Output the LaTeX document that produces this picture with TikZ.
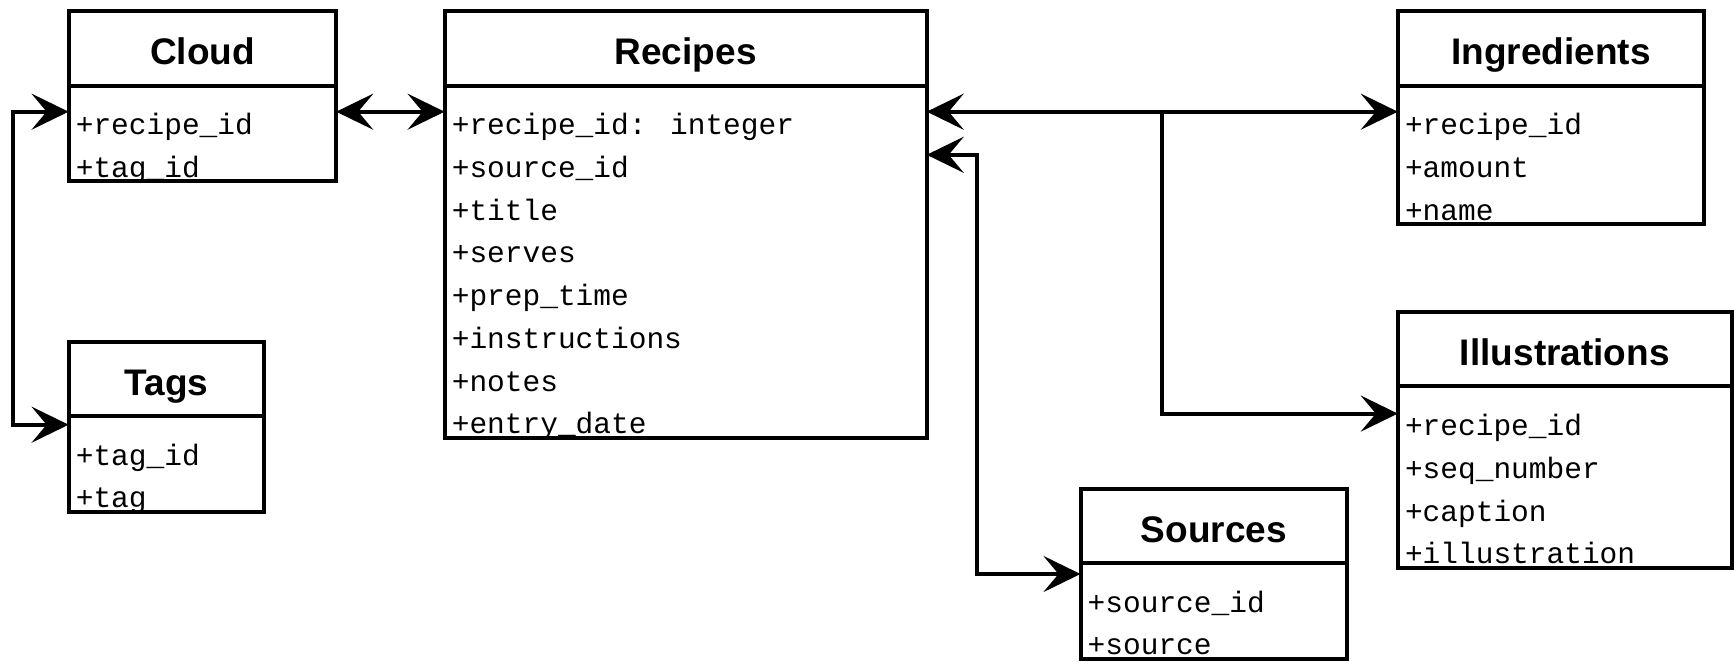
\documentclass[tikz,border=0pt]{standalone}
\usepackage{fontspec}
\setmainfont{Liberation Sans}
\newfontfamily\fieldfont{Liberation Mono}
\usetikzlibrary{arrows.meta,calc}
\tikzset{
  ent/.style={draw, rectangle, line width=4pt, inner sep=0pt, outer sep=0pt, anchor=north west},
  hdr/.style={ent, minimum height=74.5pt, font=\fontsize{37}{44}\selectfont\bfseries, text height=32.5pt, text depth=0pt},
  bdy/.style={ent},
  fld/.style={anchor=base west, inner sep=0pt, font=\fieldfont\fontsize{29.5}{35}\selectfont},
  conn/.style={line width=4pt, line join=miter},
  >={Stealth[length=37pt,width=36pt,inset=15pt]}
}
\begin{document}
\begin{tikzpicture}[x=1pt,y=-1pt]
\useasboundingbox (0,0) rectangle (1734,661);

% Cloud
\node[hdr, minimum width=267.6pt] (cloudH) at (68.6,11.1) {Cloud};
\node[bdy, minimum width=267.6pt, minimum height=95.8pt] (cloudB) at (cloudH.south west) {};
\begin{scope}
\clip (cloudB.north west) rectangle (cloudB.south east);
\node[fld] (cloud1) at ($(cloudB.north west)+(7,49.2)$) {+recipe\_id};
\node[fld] (cloud2) at ($(cloudB.north west)+(7,91.9)$) {+tag\_id};
\end{scope}

% Recipes
\node[hdr, minimum width=482.1pt] (recH) at (444.6,11.1) {Recipes};
\node[bdy, minimum width=482.1pt, minimum height=352pt] (recB) at (recH.south west) {};
\begin{scope}
\clip (recB.north west) rectangle (recB.south east);
\node[fld] (rec1) at ($(recB.north west)+(7,49.2)$) {+recipe\_id: integer};
\node[fld] (rec2) at ($(recB.north west)+(7,91.9)$) {+source\_id};
\node[fld] (rec3) at ($(recB.north west)+(7,134.6)$) {+title};
\node[fld] (rec4) at ($(recB.north west)+(7,177.3)$) {+serves};
\node[fld] (rec5) at ($(recB.north west)+(7,220)$) {+prep\_time};
\node[fld] (rec6) at ($(recB.north west)+(7,262.7)$) {+instructions};
\node[fld] (rec7) at ($(recB.north west)+(7,305.4)$) {+notes};
\node[fld] (rec8) at ($(recB.north west)+(7,348.1)$) {+entry\_date};
\end{scope}

% Tags
\node[hdr, minimum width=195.7pt] (tagH) at (68.6,341.5) {Tags};
\node[bdy, minimum width=195.7pt, minimum height=95.8pt] (tagB) at (tagH.south west) {};
\begin{scope}
\clip (tagB.north west) rectangle (tagB.south east);
\node[fld] (tag1) at ($(tagB.north west)+(7,49.2)$) {+tag\_id};
\node[fld] (tag2) at ($(tagB.north west)+(7,91.9)$) {+tag};
\end{scope}

% Ingredients
\node[hdr, minimum width=306.4pt] (ingH) at (1397.8,11.1) {Ingredients};
\node[bdy, minimum width=306.4pt, minimum height=138.5pt] (ingB) at (ingH.south west) {};
\begin{scope}
\clip (ingB.north west) rectangle (ingB.south east);
\node[fld] (ing1) at ($(ingB.north west)+(7,49.2)$) {+recipe\_id};
\node[fld] (ing2) at ($(ingB.north west)+(7,91.9)$) {+amount};
\node[fld] (ing3) at ($(ingB.north west)+(7,134.6)$) {+name};
\end{scope}

% Illustrations
\node[hdr, minimum width=334pt] (illH) at (1397.8,311.9) {Illustrations};
\node[bdy, minimum width=334pt, minimum height=181.2pt] (illB) at (illH.south west) {};
\begin{scope}
\clip (illB.north west) rectangle (illB.south east);
\node[fld] (ill1) at ($(illB.north west)+(7,49.2)$) {+recipe\_id};
\node[fld] (ill2) at ($(illB.north west)+(7,91.9)$) {+seq\_number};
\node[fld] (ill3) at ($(illB.north west)+(7,134.6)$) {+caption};
\node[fld] (ill4) at ($(illB.north west)+(7,177.3)$) {+illustration};
\end{scope}

% Sources
\node[hdr, minimum width=266.5pt] (srcH) at (1080.5,488.5) {Sources};
\node[bdy, minimum width=266.5pt, minimum height=95.8pt] (srcB) at (srcH.south west) {};
\begin{scope}
\clip (srcB.north west) rectangle (srcB.south east);
\node[fld] (src1) at ($(srcB.north west)+(7,49.2)$) {+source\_id};
\node[fld] (src2) at ($(srcB.north west)+(7,91.9)$) {+source};
\end{scope}

% connectors
\coordinate (cr) at ($(cloudB.north east)+(0,26.1)$);
\draw[conn,<->] (cr) -- (cr -| recB.west);

\coordinate (cl) at ($(cloudB.north west)+(0,26.1)$);
\coordinate (lx) at (13.3,0);
\coordinate (tg) at ($(tagB.north west)+(0,8.7)$);
\draw[conn,<->] (cl) -- (cl -| lx) -- (tg -| lx) -- (tg);

\coordinate (ri) at ($(recB.north east)+(0,26.1)$);
\draw[conn,<->] (ri) -- (ri -| ingB.west);

\coordinate (bx) at (1162.3,0);
\coordinate (il) at ($(illB.north west)+(0,27.2)$);
\draw[conn,->] (ri -| bx) -- (il -| bx) -- (il);

\coordinate (rs) at ($(recB.north east)+(0,69.2)$);
\coordinate (sx) at (976.5,0);
\coordinate (so) at ($(srcB.north west)+(0,11)$);
\draw[conn,<->] (rs) -- (rs -| sx) -- (so -| sx) -- (so);
\end{tikzpicture}
\end{document}
